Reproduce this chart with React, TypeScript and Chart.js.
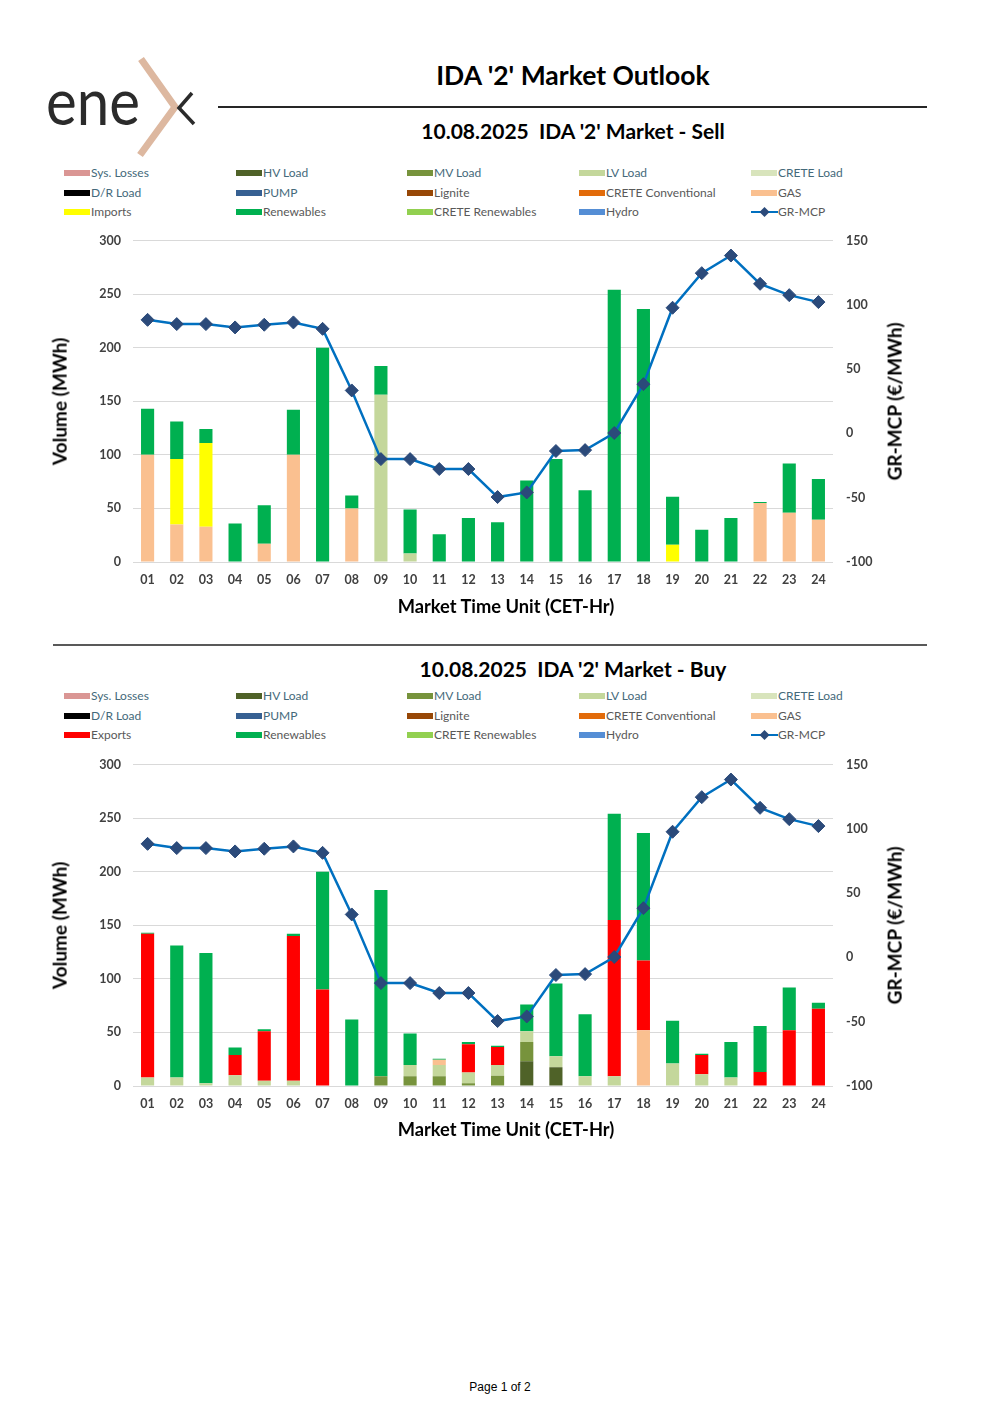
import React, { useEffect, useRef } from "react";
import { Chart, registerables } from "chart.js";

Chart.register(...registerables);

// ---------- data ----------
const hours = ["01", "02", "03", "04", "05", "06", "07", "08", "09", "10", "11", "12", "13", "14", "15", "16", "17", "18", "19", "20", "21", "22", "23", "24"];
const volumeTicks = [0, 50, 100, 150, 200, 250, 300];
const priceTicks = [-100, -50, 0, 50, 100, 150];

const grMcp = [88.3, 85, 85, 82.4, 84.5, 86.3, 81.3, 33.4, -20, -20, -27.7, -27.7, -49.5, -45.9, -13.7, -13, 0.3, 38.3, 97.7, 124.6, 138.3, 116.3, 107.5, 102.1];

const none = [0, 0, 0, 0, 0, 0, 0, 0, 0, 0, 0, 0, 0, 0, 0, 0, 0, 0, 0, 0, 0, 0, 0, 0];

// Sell side
const sellLvLoad = [0, 0, 0, 0, 0, 0, 0, 0, 156, 8, 0, 0, 0, 0, 0, 0, 0, 0, 0, 0, 0, 0, 0, 0];
const sellGas = [100, 35, 33, 0, 17, 100, 0, 50, 0, 0, 0, 0, 0, 0, 0, 0, 0, 0, 0, 0, 0, 55, 46, 39.5];
const sellImports = [0, 61, 78, 0, 0, 0, 0, 0, 0, 0, 0, 0, 0, 0, 0, 0, 0, 0, 16, 0, 0, 0, 0, 0];
const sellRenewables = [43, 35, 13, 36, 36, 42, 200, 12, 27, 41, 26, 41, 37, 76, 96, 67, 254, 236, 45, 30, 41, 1, 46, 38];

// Buy side
const buyHvLoad = [0, 0, 0, 0, 0, 0, 0, 0, 0, 0, 0, 0, 0, 23, 17.4, 0, 0, 0, 0, 0, 0, 0, 0, 0];
const buyMvLoad = [0, 0, 0, 0, 0, 0, 0, 0, 9, 9, 9, 2.5, 9.5, 18, 0, 0, 0, 0, 0, 0, 0, 0, 0, 0];
const buyLvLoad = [8, 8, 2.5, 10, 5, 5, 0, 0, 0, 10.5, 10.5, 10, 10, 10, 10.3, 9, 9, 0, 21, 11, 8, 0, 0, 0];
const buyGas = [0, 0, 0, 0, 0, 0, 0, 0, 0, 0, 5, 0, 0, 0, 0, 0, 0, 52, 0, 0, 0, 0, 0, 0];
const buyExports = [134, 0, 0, 19, 46, 135, 90, 0, 0, 0, 0, 26.5, 17, 0, 0, 0, 146, 65, 0, 18, 0, 13, 52, 72];
const buyRenewables = [1, 123, 121.5, 7, 2, 2, 110, 62, 174, 29.5, 1, 2, 1, 25, 68, 58, 99, 119, 40, 1, 33, 43, 40, 5.6];

// ---------- styles ----------
const FONT = "'Lato', 'DejaVu Sans', sans-serif";
const C = {
  sysLosses: "#DA9694",
  hv: "#4F6228",
  mv: "#77933C",
  lv: "#C4D79B",
  creteLoad: "#D8E4BC",
  dr: "#000000",
  pump: "#366092",
  lignite: "#974706",
  creteConv: "#E26B0A",
  gas: "#FAC090",
  imports: "#FFFF00",
  exports: "#FF0000",
  renew: "#00B050",
  creteRen: "#92D050",
  hydro: "#558ED5",
  line: "#0070C0",
  marker: "#2B4A7A",
};

type Series = { label: string; color: string; data: number[] };

function sellSeries(): Series[] {
  return [
    { label: "Sys. Losses", color: C.sysLosses, data: none },
    { label: "HV Load", color: C.hv, data: none },
    { label: "MV Load", color: C.mv, data: none },
    { label: "LV Load", color: C.lv, data: sellLvLoad },
    { label: "CRETE Load", color: C.creteLoad, data: none },
    { label: "D/R Load", color: C.dr, data: none },
    { label: "PUMP", color: C.pump, data: none },
    { label: "Lignite", color: C.lignite, data: none },
    { label: "CRETE Conventional", color: C.creteConv, data: none },
    { label: "GAS", color: C.gas, data: sellGas },
    { label: "Imports", color: C.imports, data: sellImports },
    { label: "Renewables", color: C.renew, data: sellRenewables },
    { label: "CRETE Renewables", color: C.creteRen, data: none },
    { label: "Hydro", color: C.hydro, data: none },
  ];
}

function buySeries(): Series[] {
  return [
    { label: "Sys. Losses", color: C.sysLosses, data: none },
    { label: "HV Load", color: C.hv, data: buyHvLoad },
    { label: "MV Load", color: C.mv, data: buyMvLoad },
    { label: "LV Load", color: C.lv, data: buyLvLoad },
    { label: "CRETE Load", color: C.creteLoad, data: none },
    { label: "D/R Load", color: C.dr, data: none },
    { label: "PUMP", color: C.pump, data: none },
    { label: "Lignite", color: C.lignite, data: none },
    { label: "CRETE Conventional", color: C.creteConv, data: none },
    { label: "GAS", color: C.gas, data: buyGas },
    { label: "Exports", color: C.exports, data: buyExports },
    { label: "Renewables", color: C.renew, data: buyRenewables },
    { label: "CRETE Renewables", color: C.creteRen, data: none },
    { label: "Hydro", color: C.hydro, data: none },
  ];
}

const TEAL_LABELS = ["Sys. Losses", "HV Load", "MV Load", "LV Load", "CRETE Load", "D/R Load", "PUMP"];

// ---------- chart ----------
function ComboChart({ series, top }: { series: Series[]; top: number }) {
  const ref = useRef<HTMLCanvasElement | null>(null);
  useEffect(() => {
    if (!ref.current) return;
    const tickFont = { family: FONT, size: 12.5, weight: "bold" as const };
    const chart = new Chart(ref.current, {
      type: "bar",
      data: {
        labels: hours,
        datasets: [
          {
            type: "line" as const,
            label: "GR-MCP",
            data: grMcp,
            yAxisID: "y1",
            order: 0,
            borderColor: C.line,
            borderWidth: 2.5,
            tension: 0,
            pointStyle: "rectRot",
            pointRadius: 6.5,
            pointBackgroundColor: C.marker,
            pointBorderColor: C.marker,
            pointBorderWidth: 1,
          } as any,
          ...series.map((s) => ({
            type: "bar" as const,
            label: s.label,
            data: s.data,
            backgroundColor: s.color,
            borderWidth: 0,
            yAxisID: "y",
            order: 1,
            barPercentage: 0.45,
            categoryPercentage: 1,
          })),
        ],
      },
      options: {
        animation: false,
        responsive: false,
        maintainAspectRatio: false,
        devicePixelRatio: 1,
        layout: { padding: { top: 10, left: 0, right: 0, bottom: 0 } },
        plugins: { legend: { display: false }, tooltip: { enabled: false } },
        scales: {
          x: {
            stacked: true,
            grid: { display: false },
            border: { display: false },
            ticks: { font: tickFont, color: "#404040", padding: 2, maxRotation: 0, autoSkip: false },
            afterFit: (s: any) => {
              s.height = 58;
            },
          },
          y: {
            stacked: true,
            position: "left",
            min: 0,
            max: 300,
            afterBuildTicks: (s: any) => {
              s.ticks = volumeTicks.map((v) => ({ value: v }));
            },
            grid: { color: "#D9D9D9", lineWidth: 1, drawTicks: false },
            border: { display: false },
            ticks: { font: tickFont, color: "#404040", padding: 12 },
            afterFit: (s: any) => {
              s.width = 93;
            },
          },
          y1: {
            stacked: false,
            position: "right",
            min: -100,
            max: 150,
            afterBuildTicks: (s: any) => {
              s.ticks = priceTicks.map((v) => ({ value: v }));
            },
            grid: { display: false, drawTicks: false },
            border: { display: false },
            ticks: { font: tickFont, color: "#404040", padding: 13 },
            afterFit: (s: any) => {
              s.width = 107;
            },
          },
        },
      },
    });
    return () => chart.destroy();
  }, [series]);
  return (
    <canvas
      ref={ref}
      width={900}
      height={400}
      style={{ position: "absolute", left: 40, top: top, width: 900, height: 400 }}
    />
  );
}

// ---------- text helpers ----------
function Txt(props: {
  x: number;
  y: number;
  w: number;
  size: number;
  bold?: boolean;
  color?: string;
  family?: string;
  children: React.ReactNode;
}) {
  return (
    <div
      style={{
        position: "absolute",
        left: props.x - props.w / 2,
        top: props.y - props.size * 0.6,
        width: props.w,
        height: props.size * 1.2,
        lineHeight: props.size * 1.2 + "px",
        textAlign: "center",
        fontSize: props.size,
        fontWeight: props.bold ? 700 : 400,
        color: props.color || "#000",
        fontFamily: props.family || FONT,
        whiteSpace: "pre",
      }}
    >
      {props.children}
    </div>
  );
}

function VTxt(props: { x: number; y: number; size: number; children: React.ReactNode }) {
  return (
    <div
      style={{
        position: "absolute",
        left: props.x - 100,
        top: props.y - props.size * 0.6,
        width: 200,
        height: props.size * 1.2,
        lineHeight: props.size * 1.2 + "px",
        textAlign: "center",
        fontSize: props.size,
        fontWeight: 700,
        color: "#000",
        fontFamily: FONT,
        whiteSpace: "pre",
        transform: "rotate(-90deg)",
        transformOrigin: "50% 50%",
      }}
    >
      {props.children}
    </div>
  );
}

function Legend({ series, top }: { series: Series[]; top: number }) {
  const cols = [64, 236, 407, 579, 751];
  const rowGap = 19.5;
  const items: { label: string; color: string; line?: boolean }[] = series.map((s) => ({ label: s.label, color: s.color }));
  items.push({ label: "GR-MCP", color: C.line, line: true });
  return (
    <>
      {items.map((it, i) => {
        const col = i % 5;
        const row = Math.floor(i / 5);
        const cx = cols[col];
        const cy = top + row * rowGap;
        const teal = TEAL_LABELS.indexOf(it.label) >= 0;
        return (
          <div key={it.label} style={{ position: "absolute", left: cx, top: cy - 8, height: 16 }}>
            {it.line ? (
              <svg width={27} height={16} style={{ position: "absolute", left: 0, top: 0 }}>
                <line x1={0} y1={8} x2={27} y2={8} stroke={C.line} strokeWidth={2} />
                <polygon points="13.5,3 18.5,8 13.5,13 8.5,8" fill={C.marker} />
              </svg>
            ) : (
              <div style={{ position: "absolute", left: 0, top: 5, width: 26, height: 6, background: it.color }} />
            )}
            <div
              style={{
                position: "absolute",
                left: 27,
                top: 0,
                lineHeight: "16px",
                fontSize: 12,
                fontFamily: FONT,
                color: teal ? "#44697A" : "#595959",
                whiteSpace: "pre",
              }}
            >
              {it.label}
            </div>
          </div>
        );
      })}
    </>
  );
}

function Logo() {
  return (
    <svg width={170} height={115} style={{ position: "absolute", left: 40, top: 50 }} viewBox="40 50 170 115">
      <text
        x={46}
        y={125}
        fontFamily={FONT}
        fontWeight={400}
        fontSize={66}
        fill="#2B2B2B"
        textLength={94}
        lengthAdjust="spacingAndGlyphs"
      >
        ene
      </text>
      <polyline points="141,59 175,107 140,155" fill="none" stroke="#DDB8A0" strokeWidth={7} />
      <polyline points="192,93 179,108 194,124" fill="none" stroke="#2B2B2B" strokeWidth={3.5} />
    </svg>
  );
}

export default function App() {
  const sell = sellSeries();
  const buy = buySeries();
  return (
    <div style={{ position: "absolute", left: 0, top: 0, width: 1000, height: 1415, background: "#fff", overflow: "hidden" }}>
      <Logo />
      <Txt x={573} y={76} w={700} size={26.5} bold>
        IDA '2' Market Outlook
      </Txt>
      <div style={{ position: "absolute", left: 218, top: 106, width: 709, height: 1.5, background: "#262626" }} />
      <Txt x={573} y={131} w={700} size={21} bold>
        10.08.2025  IDA '2' Market - Sell
      </Txt>
      <Legend series={sell} top={173} />
      <ComboChart series={sell} top={220} />
      <VTxt x={60} y={401} size={19}>
        Volume (MWh)
      </VTxt>
      <VTxt x={895} y={401} size={19}>
        GR-MCP (€/MWh)
      </VTxt>
      <Txt x={506} y={607} w={400} size={18.3} bold>
        Market Time Unit (CET-Hr)
      </Txt>

      <div style={{ position: "absolute", left: 53, top: 644, width: 874, height: 2, background: "#595959" }} />

      <Txt x={573} y={669} w={700} size={21} bold>
        10.08.2025  IDA '2' Market - Buy
      </Txt>
      <Legend series={buy} top={696} />
      <ComboChart series={buy} top={744} />
      <VTxt x={60} y={925} size={19}>
        Volume (MWh)
      </VTxt>
      <VTxt x={895} y={925} size={19}>
        GR-MCP (€/MWh)
      </VTxt>
      <Txt x={506} y={1130} w={400} size={18.3} bold>
        Market Time Unit (CET-Hr)
      </Txt>

      <Txt x={500} y={1387} w={200} size={12} family="'Liberation Sans', Arial, sans-serif">
        Page 1 of 2
      </Txt>
    </div>
  );
}
